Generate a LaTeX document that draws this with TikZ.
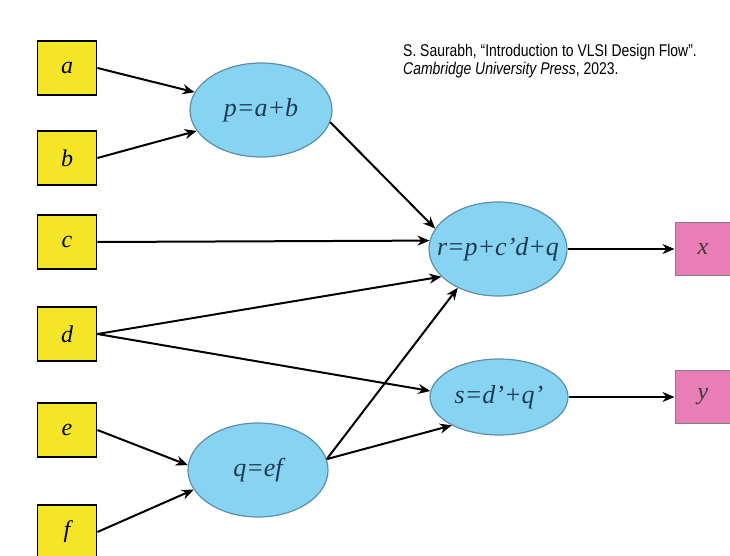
\documentclass[tikz,border=0pt]{standalone}
\usepackage{fontspec}
\setmainfont{Liberation Serif}
\newfontfamily\citefont[FakeStretch=0.82]{Liberation Sans}
\usetikzlibrary{shapes.geometric,arrows.meta}
\definecolor{boxyellow}{HTML}{F4E526}
\definecolor{ellblue}{HTML}{87D3F2}
\definecolor{ellborder}{HTML}{5E8FA8}
\definecolor{elltext}{HTML}{1E3A55}
\definecolor{outpink}{HTML}{E97DB8}
\definecolor{outborder}{HTML}{8A7A84}
\definecolor{outtext}{HTML}{3A3A3A}
\tikzset{
  inbox/.style={draw=black, line width=1.8pt, fill=boxyellow, minimum width=59pt, minimum height=54pt, inner sep=0pt, font=\fontsize{24}{24}\selectfont\itshape},
  opnode/.style={ellipse, draw=ellborder, line width=1.2pt, fill=ellblue, inner sep=0pt, text=elltext, font=\fontsize{26}{26}\selectfont\itshape},
  outbox/.style={draw=outborder, line width=1pt, fill=outpink, minimum width=56pt, minimum height=53pt, inner sep=0pt, text=outtext, font=\fontsize{24}{24}\selectfont\itshape},
  conn/.style={line width=2pt, -{Stealth[length=12pt,width=10pt]}},
}
\newcommand{\zw}[1]{\makebox[0pt]{#1}}
\begin{document}
\begin{tikzpicture}[x=1pt,y=-1pt]
\useasboundingbox (0,0) rectangle (730,556);
\node[inbox] (a) at (67,68) {a};
\node[inbox] (b) at (67,158) {b};
\node[inbox] (c) at (67,242) {c};
\node[inbox] (d) at (67,334) {d};
\node[inbox] (e) at (67,430) {e};
\node[inbox] (f) at (67,532) {f};
\node[opnode, minimum width=142pt, minimum height=94pt] (p) at (261,110) {\zw{p=a+b}};
\node[opnode, minimum width=140pt, minimum height=94pt] (q) at (258,470) {\zw{q=ef}};
\node[opnode, minimum width=138pt, minimum height=94pt] (r) at (498,249) {\zw{r=p+c’d+q}};
\node[opnode, minimum width=138pt, minimum height=76pt] (s) at (499,397) {\zw{s=d’+q’}};
\node[outbox] (x) at (703,249) {x};
\node[outbox] (y) at (703,397) {y};
\node[anchor=base west, align=left, inner sep=0pt, font=\citefont\fontsize{17}{18}\selectfont] (cite) at (403,75)
  {S. Saurabh, “Introduction to VLSI Design Flow”.\\ \textit{Cambridge University Press}, 2023.};
\draw[conn] (a.east) -- (p.165);
\draw[conn] (b.east) -- (p.198);
\draw[conn] (p.-10) -- (r.162);
\draw[conn] (c.east) -- (r.173);
\draw[conn] (d.east) -- (r.206);
\draw[conn] (d.east) -- (s.175);
\draw[conn] (e.east) -- (q.176);
\draw[conn] (f.east) -- (q.197);
\draw[conn] (q.9) -- (r.224);
\draw[conn] (q.9) -- (s.211);
\draw[conn] (r.east) -- (x.west);
\draw[conn] (s.east) -- (y.west);
\end{tikzpicture}
\end{document}
